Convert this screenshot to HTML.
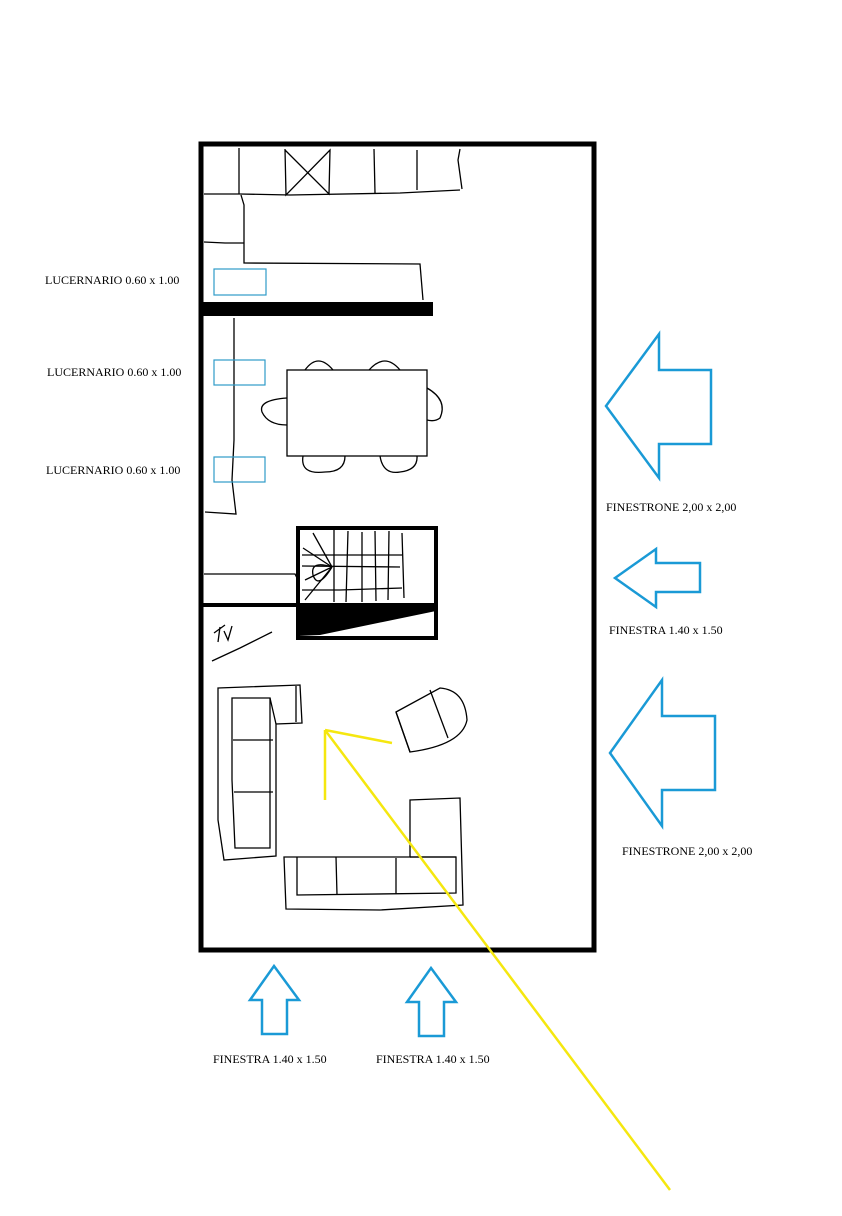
<!DOCTYPE html>
<html><head><style>
body{margin:0;background:#fff;}
svg{display:block;}
text{font-family:"Liberation Serif",serif;font-size:12px;fill:#000;}
</style></head><body>
<svg width="842" height="1216" viewBox="0 0 842 1216" xmlns="http://www.w3.org/2000/svg">
<rect x="0" y="0" width="842" height="1216" fill="#fff"/>
<g fill="none" stroke="#000" stroke-width="1.3">
<!-- kitchen top -->
<path d="M204 194 L240 194 L290 195 L400 193 L460 190"/>
<path d="M239 148 L239 194"/><path d="M285 149 L286 195 L330 150 L329 194 L285 150"/>
<path d="M374 149 L375 193"/><path d="M417 150 L417 190"/><path d="M460 149 L458 160 L462 189"/>
<path d="M204 242 L225 243 L244 243"/><path d="M241 195 L244 205 L244 263 L420 264 L423 300"/>
<!-- left partition -->
<path d="M234 318 L234 440 L232 480 L236 514 L205 512"/>
<!-- table -->
<rect x="287" y="370" width="140" height="86"/>
<path d="M305 370 Q318 352 333 370"/><path d="M369 370 Q385 352 400 370"/>
<path d="M303 456 Q300 475 325 472 Q345 472 345 456"/><path d="M380 456 Q383 475 400 472 Q418 470 417 456"/>
<path d="M287 398 Q258 400 262 412 Q268 425 287 425"/><path d="M427 388 Q448 400 440 418 Q435 422 427 420"/>
<!-- stairs -->
<path d="M204 574 L295 574 L297 578"/>
<path d="M302 555 L402 555"/><path d="M302 566 L400 567"/><path d="M302 590 L340 590 L402 588"/>
<path d="M332 567 Q310 560 313 575 Q318 590 332 567"/>
<path d="M332 567 L313 533 M332 567 L305 600 M332 567 L303 548 M332 567 L305 580"/>
<path d="M334 530 L334 602 M348 531 L346 602 M362 532 L362 602 M375 531 L376 601 M389 531 L388 600 M402 533 L404 598"/>
<!-- TV -->
<path d="M214 633 L225 625 M220 627 L218 642 M224 631 L228 640 L232 626"/>
<path d="M212 661 L240 648 L272 632"/>
<!-- sofa left -->
<path d="M218 688 L300 685 L302 723 L276 724 L276 856 L224 860 L218 820 Z"/>
<path d="M232 698 L270 698 L270 848 L235 848 L232 780 Z"/>
<path d="M270 698 L276 724 M233 740 L273 740 M234 792 L273 792 M296 686 L296 722"/>
<!-- sofa bottom -->
<path d="M284 857 L410 857 L410 800 L460 798 L463 905 L380 910 L286 909 Z"/>
<path d="M297 857 L297 895 L456 893 L456 857 L410 857"/>
<path d="M336 857 L337 895 M396 858 L396 894 M410 857 L456 857"/>
<!-- armchair -->
<path d="M396 712 L440 688 Q465 690 467 720 Q462 745 410 752 Z"/>
<path d="M430 690 L448 738 M410 752 L396 712"/>
</g>
<!-- walls -->
<rect x="201" y="144" width="393" height="806" fill="none" stroke="#000" stroke-width="5"/>
<rect x="203" y="302" width="230" height="14" fill="#000"/>
<rect x="298" y="528" width="138" height="110" fill="none" stroke="#000" stroke-width="4"/>
<rect x="203" y="603" width="234" height="4" fill="#000"/>
<polygon points="298,607 436,607 436,611 320,635 298,636" fill="#000"/>
<!-- skylights -->
<g fill="none" stroke="#2e9bc9" stroke-width="1.2">
<rect x="214" y="269" width="52" height="26"/><rect x="214" y="360" width="51" height="25"/><rect x="214" y="457" width="51" height="25"/>
</g>
<!-- big arrows -->
<g fill="none" stroke="#1a9ad6" stroke-width="2.5">
<polygon points="606,406 659,334 659,370 711,370 711,444 659,444 659,478"/>
<polygon points="615,578 656,549 656,563 700,563 700,592 656,592 656,607"/>
<polygon points="610,753 662,680 662,716 715,716 715,790 662,790 662,826"/>
<polygon points="274,966 299,1000 287,1000 287,1034 262,1034 262,1000 250,1000"/>
<polygon points="431,968 456,1002 444,1002 444,1036 419,1036 419,1002 407,1002"/>
</g>
<!-- yellow -->
<g stroke="#f5e70f" stroke-width="2.5" fill="none">
<path d="M670 1190 L325 730 M325 730 L392 743 M325 730 L325 800"/>
</g>
<g>
<text x="45" y="284">LUCERNARIO 0.60 x 1.00</text>
<text x="47" y="376">LUCERNARIO 0.60 x 1.00</text>
<text x="46" y="474">LUCERNARIO 0.60 x 1.00</text>
<text x="606" y="511">FINESTRONE 2,00 x 2,00</text>
<text x="609" y="634">FINESTRA 1.40 x 1.50</text>
<text x="622" y="855">FINESTRONE 2,00 x 2,00</text>
<text x="213" y="1063">FINESTRA 1.40 x 1.50</text>
<text x="376" y="1063">FINESTRA 1.40 x 1.50</text>
</g>
</svg>
</body></html>
